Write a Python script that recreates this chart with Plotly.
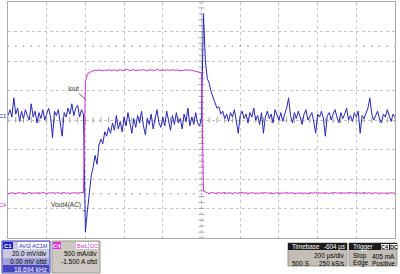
import numpy as np
import plotly.graph_objects as go

t_start_us = -400          # left edge of screen
t_step_us = 10             # sample spacing
# C1: Vout (AC coupled), mV
vout_mv = [
    3, 7, 2, 15, 4, 8, -1, 6, 1, 7, 3, 0, 11, 2, 6, -2, 5, 1, 7, 0,
    4, 8, 2, -12, 6, 3, 7, -1, -11, 5, 2, 8, 4, 11, 3, 8, 10, 2, 7, 4,
    -76,
    -62, -48, -38, -32, -24, -30, -17, -13, -16, -8,
    -11, -5, -9, -2, -7, 3, -6, -1, -8, 2,
    -4, 5, -3, -9, 1, -5, 3, -2, 6, -4,
    -10, 1, -3, 4, -6, 0, 7, -2, -5, 2,
    -4, 6, -1, -7, 3, -3, 5, -2, 1, -6,
    4, -1, 8, -4, 2, -3, 5, -2, -4,
    2, 72, 40, 28, 25, 19, 15, 12, 8, 9,
    4, 6, 1, 4, -1, 5, 2, 7, 0, -9,
    3, 6, 1, 4, -2, 5, 2, 8, 0, 3,
    -3, 5, -9, 2, 6, 1, 4, -2, 7, 3,
    0, 5, -1, 4, 8, 15, 3, -2, 5, 1,
    6, 2, -3, 4, 7, 0, 3, 5, -1, -9,
    4, 2, 6, 1, -11, 3, 5, 0, 4, 7,
    2, -2, 5, 1, 4, 8, 0, 3, -1, 5,
    2, 6, -9, 3, 1, 5, 8, 15, 4, 0,
    3, 6, 1, -2, 4, 2, 7, 3, -1, 4,
    2,
]
# C4: Iout, mA
iout_ma = [
    260, 255, 268, 262, 250, 265, 270, 258, 263, 248,
    266, 272, 259, 261, 255, 269, 264, 257, 275, 262,
    250, 266, 260, 271, 258, 263, 268, 255, 262, 270,
    259, 264, 252, 267, 261, 273, 258, 265, 270, 262,
    2150, 2280, 2310, 2325,
    2330, 2345, 2338, 2350, 2342, 2335, 2348, 2340, 2355, 2337,
    2344, 2350, 2333, 2346, 2352, 2341, 2338, 2360, 2345, 2339,
    2347, 2353, 2336, 2344, 2349, 2342, 2358, 2340, 2335, 2346,
    2351, 2343, 2338, 2365, 2344, 2340, 2349, 2337, 2352, 2346,
    2341, 2355, 2339, 2347, 2343, 2350, 2336, 2345, 2353, 2340,
    2348, 2342, 2335, 2330, 2325, 2318,
    2300, 300, 275,
    262, 258, 266, 270, 255, 263, 268, 259, 264, 272,
    257, 261, 266, 253, 269, 262, 258, 275, 263, 260,
    267, 254, 262, 270, 259, 265, 261, 256, 268, 263,
    271, 258, 262, 266, 250, 264, 269, 260, 257, 265,
    262, 273, 259, 263, 267, 255, 261, 270, 264, 258,
    266, 262, 252, 268, 263, 259, 276, 261, 265, 257,
    263, 269, 260, 255, 266, 262, 271, 258, 264, 261,
    267, 253, 262, 268, 260, 265, 259, 272, 263, 257,
    264, 270, 258, 262, 266, 255, 263, 269, 260, 265,
    261, 258, 267, 263, 256, 270, 262, 259,
]
t_blue = t_start_us + t_step_us * np.arange(len(vout_mv))
t_pink = t_start_us + t_step_us * np.arange(len(iout_ma))

# scope settings
time_per_div = 200      # us/div
n_xdiv = 10
c1_mv_per_div = 20.0
c4_ma_per_div = 500.0
c4_offset_ma = -1500.0
n_ydiv = 8
trigger_level_ma = 405

x_range = [t_start_us, t_start_us + n_xdiv * time_per_div]
y1_range = [-c1_mv_per_div * n_ydiv / 2, c1_mv_per_div * n_ydiv / 2]
y2_range = [-c4_offset_ma - c4_ma_per_div * n_ydiv / 2, -c4_offset_ma + c4_ma_per_div * n_ydiv / 2]

BLUE = "#2626b4"
PINK = "#d22ed2"
GRID = "#c4c4c4"
FONT = "Liberation Sans, Arial, sans-serif"

fig = go.Figure()

# centre-axis tick marks and half-division dotted rows
x_center = (x_range[0] + x_range[1]) / 2
minor_x = np.arange(x_range[0], x_range[1] + 1, time_per_div / 5)
minor_y = np.arange(y1_range[0], y1_range[1] + 0.1, c1_mv_per_div / 5)
fig.add_trace(go.Scatter(x=minor_x, y=[0] * len(minor_x), mode="markers",
                         marker=dict(symbol="line-ns", size=4, line=dict(color="#a0a0a0", width=1)),
                         hoverinfo="skip", showlegend=False))
fig.add_trace(go.Scatter(x=[x_center] * len(minor_y), y=minor_y, mode="markers",
                         marker=dict(symbol="line-ew", size=4, line=dict(color="#a0a0a0", width=1)),
                         hoverinfo="skip", showlegend=False))
for lvl in (2.5, -2.5):
    fig.add_trace(go.Scatter(x=minor_x, y=[lvl * c1_mv_per_div] * len(minor_x), mode="markers",
                             marker=dict(symbol="square", size=1.5, color="#a8a8a8"),
                             hoverinfo="skip", showlegend=False))

# traces
fig.add_trace(go.Scatter(x=t_pink, y=iout_ma, mode="lines", yaxis="y2",
                         line=dict(color=PINK, width=1), showlegend=False))
fig.add_trace(go.Scatter(x=t_blue, y=vout_mv, mode="lines",
                         line=dict(color=BLUE, width=1), showlegend=False))

# trigger markers
fig.add_trace(go.Scatter(x=[x_range[1] + 12], y=[trigger_level_ma], yaxis="y2", mode="markers",
                         marker=dict(symbol="triangle-left", size=6, color=PINK),
                         cliponaxis=False, showlegend=False))
fig.add_trace(go.Scatter(x=[0], y=[y2_range[0] - 40], yaxis="y2", mode="markers",
                         marker=dict(symbol="triangle-up", size=5, color=PINK),
                         cliponaxis=False, showlegend=False))

fig.update_layout(
    width=400, height=274,
    margin=dict(l=8, r=5, t=2, b=36),
    paper_bgcolor="white", plot_bgcolor="white",
    font=dict(family=FONT, size=7, color="black"),
    xaxis=dict(range=x_range, tick0=x_range[0], dtick=time_per_div, showticklabels=False,
               ticks="", showgrid=True, gridcolor=GRID, griddash="dot", gridwidth=1,
               zeroline=False, showline=True, mirror=True, linecolor="#a8a8a8", linewidth=1),
    yaxis=dict(range=y1_range, tick0=y1_range[0], dtick=c1_mv_per_div, showticklabels=False,
               ticks="", showgrid=True, gridcolor=GRID, griddash="dot", gridwidth=1,
               zeroline=False, showline=True, mirror=True, linecolor="#a8a8a8", linewidth=1),
    yaxis2=dict(range=y2_range, overlaying="y", showticklabels=False, ticks="",
                showgrid=False, zeroline=False, showline=False),
)

# trace labels
fig.add_annotation(x=0, y=1850, yref="y2", text="Iout", showarrow=True, arrowhead=0,
                   arrowwidth=0.8, arrowcolor="#404040", ax=-12, ay=-11, standoff=0,
                   font=dict(size=6.5, color="#303030"))
fig.add_annotation(x=5, y=-62, text="Vout4(AC)", showarrow=True, arrowhead=0,
                   arrowwidth=0.8, arrowcolor="#404040", ax=-20, ay=-6, standoff=0,
                   font=dict(size=6.5, color="#303030"))

# channel ground markers on left
fig.add_annotation(xref="paper", x=0, xanchor="right", y=0, yanchor="bottom", yshift=-1,
                   text="C1", showarrow=False, font=dict(size=5.5, color=BLUE))
fig.add_annotation(xref="paper", x=0, xanchor="right", y=0, yref="y2",
                   yanchor="bottom", yshift=-1, text="C4", showarrow=False,
                   font=dict(size=5.5, color=PINK))

# ---------------- info boxes below the grid ----------------
PL, PR, PT, PB = 8, 395, 2, 238


def X(px):
    return (px - PL) / (PR - PL)


def Y(py):
    return (PB - py) / (PB - PT)


def box(x0, y0, x1, y1, fill, line=None):
    fig.add_shape(type="rect", xref="paper", yref="paper", x0=X(x0), x1=X(x1), y0=Y(y1), y1=Y(y0),
                  fillcolor=fill, line=dict(color=line or fill, width=1 if line else 0), layer="above")


def txt(x, y, s, color="black", anchor="right", size=6.5, bold=False):
    fig.add_annotation(xref="paper", yref="paper", x=X(x), y=Y(y), xanchor=anchor, yanchor="middle",
                       text=("<b>%s</b>" % s) if bold else s, showarrow=False,
                       font=dict(size=size, color=color, family=FONT))


# C1 box
box(2, 241, 50, 273, "#c9c9e2", "#3a3ab8")
box(3, 258, 49, 265, "#a4a4d8")
box(3, 265, 49, 272, "#4545c2")
box(3, 242, 13, 249, "#2020c0")
box(18, 242, 30, 249, "white")
box(31, 242, 49, 249, "white")
txt(8, 245.5, "C1", "white", "center", 6, True)
txt(24, 245.5, "AVG", BLUE, "center", 5.5)
txt(40, 245.5, "AC1M", BLUE, "center", 5.5)
txt(49, 253.5, "20.0 mV/div")
txt(49, 261, "0.00 mV ofst")
txt(49, 269, "18.694 kHz", "white")

# C4 box
box(52, 241, 100, 273, "#cdc9c1", "#9a968e")
box(53, 242, 61, 249, "#e22ae2")
box(76, 242, 88, 249, "white")
box(89, 242, 98, 249, "white")
txt(57, 245.5, "C4", "white", "center", 6, True)
txt(82, 245.5, "BwL", PINK, "center", 5.5)
txt(93.5, 245.5, "DC", PINK, "center", 5.5)
txt(99, 253.5, "500 mA/div")
txt(99, 261, "-1.500 A ofst")

# Timebase box
box(288, 243, 347, 266, "#c2beb6", "#9a968e")
box(288, 243, 347, 250, "#1a1a1a")
txt(289.5, 246.5, "Timebase", "white", "left", 6.3)
txt(347, 246.5, "-604 µs", "white", "right", 6.3)
txt(347, 256, "200 µs/div")
txt(290, 263, "500 S", anchor="left")
txt(347, 263, "250 kS/s")

# Trigger box
box(349, 243, 397, 266, "#c2beb6", "#9a968e")
box(349, 243, 397, 250, "#1a1a1a")
box(381, 244, 389, 249.5, "white")
box(390, 244, 397, 249.5, "white")
txt(350.5, 246.5, "Trigger", "white", "left", 6.3)
txt(385, 246.8, "C4", "black", "center", 5.5, True)
txt(393.5, 246.8, "DC", "black", "center", 5.5, True)
txt(351, 256, "Stop", anchor="left")
txt(397, 256, "405 mA")
txt(351, 263, "Edge", anchor="left")
txt(397, 263, "Positive")

fig.write_html("out.html")
